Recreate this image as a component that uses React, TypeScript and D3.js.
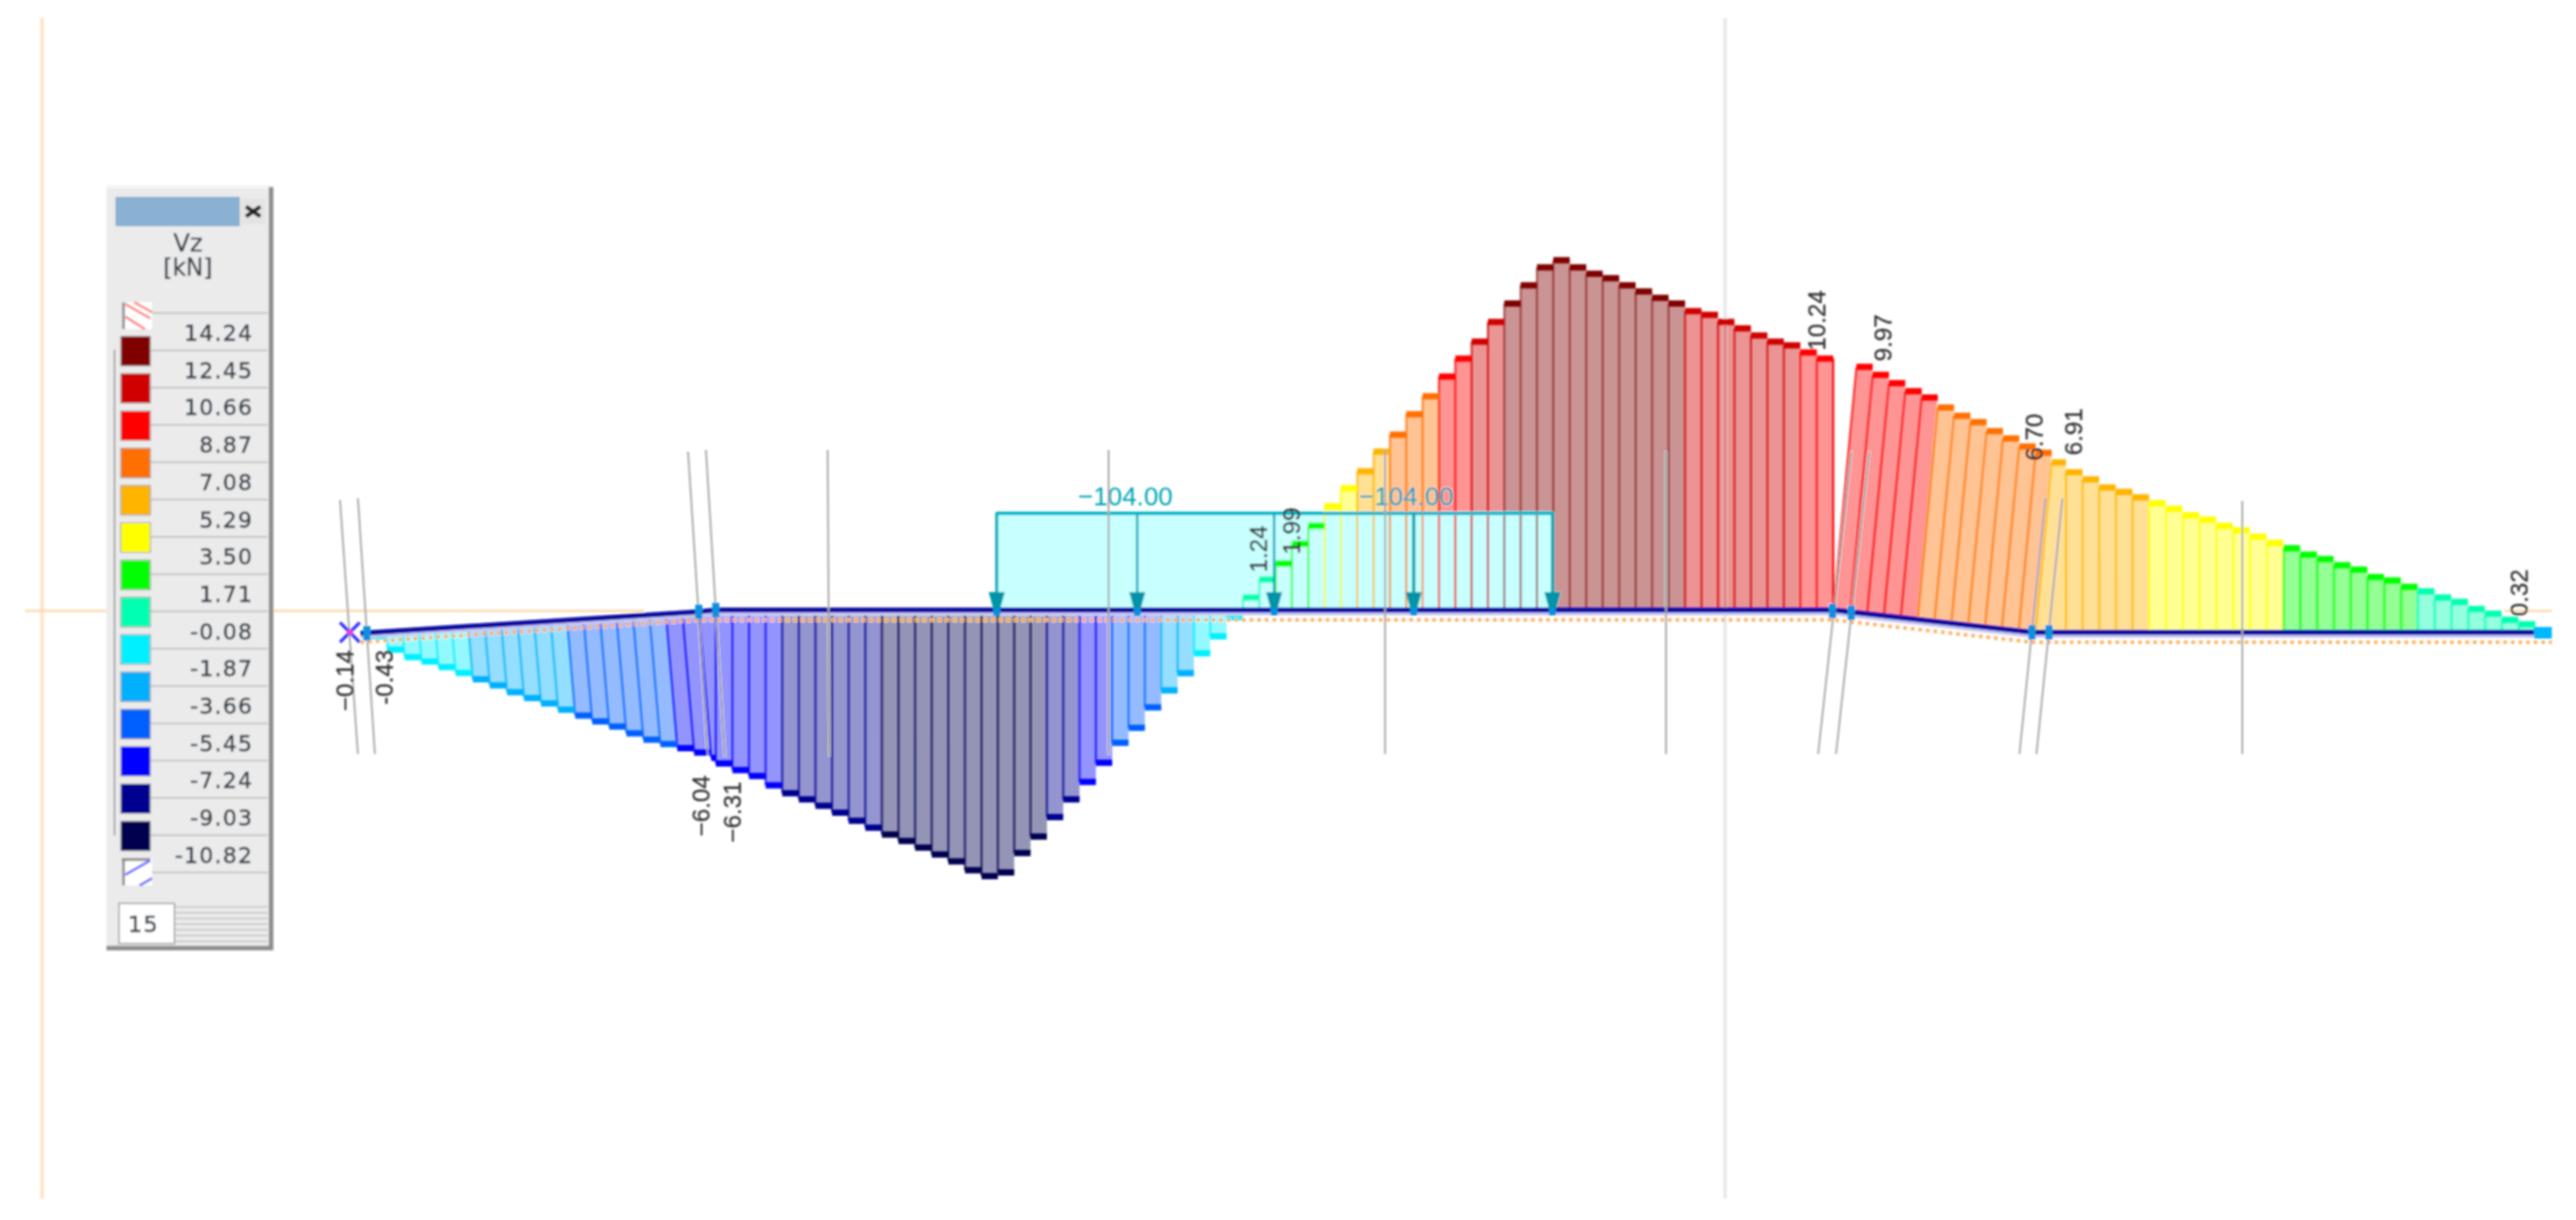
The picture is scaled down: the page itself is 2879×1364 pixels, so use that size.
import React from "react";
import * as d3 from "d3";

// ---------- data (kN) ----------
const legendTitle = ["Vz", "[kN]"];
const legendValues = [14.24, 12.45, 10.66, 8.87, 7.08, 5.29, 3.5, 1.71, -0.08, -1.87, -3.66, -5.45, -7.24, -9.03, -10.82];
const legendColors = ["#800000", "#d00000", "#ff0000", "#ff7000", "#ffb400", "#ffff00", "#00ff00", "#00ffb0", "#00f0ff", "#00b0ff", "#0060ff", "#0000ff", "#000090", "#000050"];

const spanLeftValues = [-0.15, -0.73, -1.08, -1.3, -1.57, -1.85, -2.15, -2.44, -2.76, -3.04, -3.3, -3.6, -3.88, -4.16, -4.41, -4.73, -5.03, -5.25, -5.46, -5.68, -5.94];
const spanMidNegative = [-6.24, -6.51, -6.75, -7.13, -7.45, -7.7, -7.96, -8.24, -8.57, -8.85, -9.13, -9.39, -9.66, -9.94, -10.22, -10.58, -10.82, -10.67, -9.88, -9.21, -8.42, -7.7, -6.99, -6.21, -5.4, -4.79, -3.96, -3.27, -2.57, -1.76, -1.07, -0.3];
const spanMidPositive = [0.51, 1.24, 1.89, 2.69, 3.42, 4.22, 4.95, 5.64, 6.44, 7.13, 7.96, 8.69, 9.49, 10.22, 10.91, 11.71, 12.46, 13.2, 13.93, 14.22, 13.93, 13.67, 13.49, 13.2, 12.95, 12.69, 12.46, 12.15, 12.0, 11.71, 11.45, 11.16, 10.91, 10.76, 10.47, 10.22];
const spanRampValues = [9.89, 9.64, 9.38, 9.13, 8.95, 8.62, 8.36, 8.18, 7.89, 7.67, 7.42, 7.24, 6.91];
const spanRightValues = [6.51, 6.22, 5.89, 5.71, 5.49, 5.25, 5.02, 4.76, 4.58, 4.33, 4.15, 3.89, 3.64, 3.42, 3.16, 2.98, 2.73, 2.55, 2.25, 2.11, 1.85, 1.67, 1.42, 1.24, 0.95, 0.76, 0.51, 0.33];
const barValues = [...spanLeftValues, ...spanMidNegative, ...spanMidPositive, ...spanRampValues, ...spanRightValues];

const valueLabels = [
  { text: "\u22120.14", x: 385, y: 795 }, { text: "-0.43", x: 429, y: 788 },
  { text: "\u22126.04", x: 783, y: 935 }, { text: "\u22126.31", x: 818, y: 942 },
  { text: "1.24", x: 1406, y: 640 }, { text: "1.99", x: 1443, y: 620 },
  { text: "10.24", x: 2030, y: 392 }, { text: "9.97", x: 2104, y: 404 },
  { text: "6.70", x: 2273, y: 515 }, { text: "6.91", x: 2317, y: 509 },
  { text: "0.32", x: 2815, y: 689 },
];
const loadArrowX = [1114, 1271, 1424, 1580, 1735];
const loadLabels = [{ text: "\u2212104.00", x: 1205 }, { text: "\u2212104.00", x: 1519 }];
const sectionLines = [
  [380, 559, 400, 843], [400, 557, 419, 843], [769, 505, 791, 845], [789, 503, 810, 845],
  [925, 503, 927, 845], [1239, 503, 1239, 843], [1548, 503, 1548, 843], [1862, 505, 1862, 843],
  [2069, 505, 2032, 843], [2089, 505, 2052, 843], [2286, 557, 2257, 843], [2305, 557, 2276, 843], [2506, 560, 2506, 843],
];
const nodeMarkers = [[410, 708], [781, 684], [800, 682], [2048, 683], [2069, 685], [2271, 707], [2290, 707]];

// ---------- scales ----------
const xBase = d3.scaleLinear()
  .domain([0, 20, 21, 37, 72, 88, 89, 101, 102, 107, 129, 130])
  .range([413, 781, 800, 1097, 1736, 2030.5, 2049, 2275, 2309, 2402, 2815, 2834]);
const beamXs = [403, 781, 800, 2048, 2271, 2852];
const beamYs = [708, 684, 682, 682, 707, 707];
const beamY = d3.scaleLinear().domain(beamXs).range(beamYs);
const dotYs = [718, 693, 693, 693, 718, 718];
const pxPerKn = 27.5;
const h = d3.scaleLinear().domain([0, 1]).range([0, pxPerKn]);
const colorOf = d3.scaleThreshold<number, string>()
  .domain([...legendValues.slice(1, -1)].reverse())
  .range([...legendColors].reverse());
const skewOf = (i: number) => (i <= 20 ? 0.085 : i >= 89 && i <= 101 ? 0.095 : 0);
const BAR_W = 18.4;

const bars = barValues.map((v, i) => {
  const bx = xBase(i);
  const by = beamY(bx);
  const len = h(Math.abs(v));
  const tx = bx + skewOf(i) * len;
  const sign = v < 0 ? 1 : -1;
  return { v, i, bx, by, len, tx, tipY: by + sign * len, sign, color: colorOf(v) };
});
const tipRight = (i: number) => {
  const b = bars[i], n = bars[i + 1];
  const w = b.tx + BAR_W;
  return n && n.tx > b.tx ? Math.min(w, n.tx) : w;
};
const line = d3.line();

function Legend() {
  const rowLine = (i: number) => 350 + 41.7 * i;
  const dark = "#39424c";
  return (
    <g fontFamily="'DejaVu Sans', sans-serif" fill={dark} stroke={dark} strokeWidth={0}>
      <rect x={119} y={209} width={186} height={851} fill="#ebebeb" />
      <path d="M119 209H305" stroke="#f4f4f4" strokeWidth={4} fill="none" />
      <path d="M303 209V1060H119" stroke="#8c8c8c" strokeWidth={5} fill="none" />
      <rect x={129} y={220} width={139} height={33} fill="#8ab0d2" />
      <rect x={269} y={222} width={28} height={29} fill="#e4e4e4" />
      <path d="M275 231L291 242M291 231L275 242" stroke="#222" strokeWidth={4.5} />
      <text x={210} y={281} fontSize={27} textAnchor="middle" strokeWidth={0.4}>{legendTitle[0]}</text>
      <text x={210} y={308} fontSize={26} textAnchor="middle" strokeWidth={0.4}>{legendTitle[1]}</text>
      <path d="M128 391V934" stroke="#a0a0a0" strokeWidth={2} fill="none" />
      {legendValues.map((v, i) => (
        <g key={v}>
          <line x1={167} x2={299} y1={rowLine(i)} y2={rowLine(i)} stroke="#c4c4c4" strokeWidth={2} />
          <text x={283} y={372 + 41.7 * i + 9} fontSize={24.5} letterSpacing={1.4} textAnchor="end" strokeWidth={0.6}>{v.toFixed(2)}</text>
        </g>
      ))}
      <line x1={167} x2={299} y1={rowLine(15)} y2={rowLine(15)} stroke="#c4c4c4" strokeWidth={2} />
      {legendColors.map((c, i) => (
        <rect key={c} x={135} y={376 + 41.7 * i} width={33} height={33} fill={c} stroke="#9a9a9a" strokeWidth={1} />
      ))}
      <rect x={136} y={338} width={34} height={30} fill="#fff" />
      <path d="M138 338V368" stroke="#8c8c8c" strokeWidth={3} />
      <path d="M140 340L168 356M150 338L170 349M140 354L162 368" stroke="#ff8c8c" strokeWidth={3} fill="none" />
      <rect x={136} y={960} width={34} height={30} fill="#fff" />
      <path d="M138 960V990M136 961H168" stroke="#8c8c8c" strokeWidth={3} fill="none" />
      <path d="M140 978L168 962M156 990L170 982" stroke="#7070ff" strokeWidth={3} fill="none" />
      <rect x={133} y={1010} width={62} height={45} fill="#fff" stroke="#b0b0b0" strokeWidth={2} />
      <text x={143} y={1042} fontSize={25} letterSpacing={1.4} strokeWidth={0.6}>15</text>
      {d3.range(0, 7).map((k) => (
        <line key={k} x1={196} x2={299} y1={1014 + k * 6.4} y2={1014 + k * 6.4} stroke="#c0c0c0" strokeWidth={1.5} />
      ))}
    </g>
  );
}

export default function App() {
  return (
    <svg width={2879} height={1364} viewBox="0 0 2879 1364" style={{ position: "fixed", left: 0, top: 0, background: "#fff" }}>
      <defs>
        <filter id="soft" x="0" y="0" width="2879" height="1364" filterUnits="userSpaceOnUse">
          <feGaussianBlur stdDeviation={0.9} />
        </filter>
      </defs>
      <g filter="url(#soft)">
        {/* guides */}
        <line x1={47} x2={47} y1={20} y2={1340} stroke="#ffe3c4" strokeWidth={4} />
        <line x1={1928} x2={1928} y1={20} y2={1340} stroke="#e8e8e8" strokeWidth={4} />
        <line x1={28} x2={720} y1={683} y2={683} stroke="#ffd8ac" strokeWidth={2.5} />
        <line x1={2799} x2={2852} y1={683} y2={683} stroke="#ffd8ac" strokeWidth={2.5} />

        {/* bar fills */}
        {bars.map((b, i) => {
          const nextBase = i + 1 < bars.length ? bars[i + 1].bx : b.bx + BAR_W;
          const nextBeam = beamY(nextBase);
          return (
            <path key={i} fill={b.color} fillOpacity={0.42}
              d={line([[b.bx, b.by], [nextBase, nextBeam], [tipRight(i), b.tipY], [b.tx, b.tipY]]) + "Z"} />
          );
        })}

        {/* distributed load */}
        <rect x={loadArrowX[0]} y={574} width={loadArrowX[4] - loadArrowX[0]} height={108} fill="#c8ffff" />

        {/* bar edges and caps */}
        {bars.map((b, i) => (
          <line key={i} x1={b.bx} y1={b.by} x2={b.tx} y2={b.tipY} stroke={b.color} strokeWidth={2.2} strokeOpacity={b.i >= 69 && b.i <= 79 ? 0.6 : 0.8} />
        ))}
        {bars.map((b, i) => (
          <line key={i} x1={b.tx} y1={b.tipY} x2={tipRight(i)} y2={b.tipY} stroke={b.color} strokeWidth={7} />
        ))}
        <line x1={bars[88].bx + BAR_W} y1={bars[88].by} x2={bars[88].tx + BAR_W} y2={bars[88].tipY} stroke={bars[88].color} strokeWidth={2.2} />

        {/* dotted baseline and beam */}
        <path d={line(beamXs.map((x, i) => [x, dotYs[i]]) as [number, number][])!} fill="none" stroke="#ffb060" strokeWidth={4} strokeDasharray="4 4.5" />
        <path d={line(beamXs.map((x, i) => [x, beamYs[i] + 3.5]) as [number, number][])!} fill="none" stroke="#c8c8f4" strokeWidth={5} />
        <path d={line(beamXs.map((x, i) => [x, beamYs[i]]) as [number, number][])!} fill="none" stroke="#0a0aa0" strokeWidth={5.5} />

        {/* load frame and arrows */}
        <path d={`M${loadArrowX[0]} 682V574H${loadArrowX[4]}V682`} fill="none" stroke="#00b4c4" strokeWidth={3} />
        <line x1={loadArrowX[0]} x2={loadArrowX[4]} y1={574} y2={574} stroke="#00b8c8" strokeWidth={4} />
        {loadArrowX.map((x, k) => (
          <g key={x}>
            <line x1={x} x2={x} y1={574} y2={664} stroke="#00a8b8" strokeWidth={k === 3 ? 4 : 2.6} />
            <path d={`M${x - 9} 662H${x + 9}L${x + 4} 680H${x - 4}Z`} fill="#0094a8" />
            <rect x={x - 4} y={680} width={8} height={8} fill="#0090e0" />
          </g>
        ))}
        {loadLabels.map((l, i) => (
          <text key={i} x={l.x} y={565} fontSize={29} fontFamily="'Liberation Sans', sans-serif" fill="#00a4b4">{l.text}</text>
        ))}

        {/* section lines */}
        {sectionLines.map((s, i) => (
          <line key={i} x1={s[0]} y1={s[1]} x2={s[2]} y2={s[3]} stroke="#a6a6a6" strokeWidth={2} />
        ))}

        {/* node markers */}
        {nodeMarkers.map((m, i) => (
          <rect key={i} x={m[0] - 4} y={m[1] - 8} width={8} height={16} fill="#1090e0" />
        ))}
        <rect x={2832} y={701} width={20} height={13} fill="#00b8ff" />
        <path d="M380 696L402 718M402 696L380 718" stroke="#3030ff" strokeWidth={3.5} />
        <circle cx={391} cy={707} r={3.5} fill="#e040e0" />

        {/* value labels */}
        {valueLabels.map((l, i) => (
          <text key={i} transform={`translate(${l.x + 10},${l.y}) rotate(-90)`} fontSize={27} fontFamily="'Liberation Sans', sans-serif" fill="#333" stroke="#333" strokeWidth={0.3}>{l.text}</text>
        ))}

        <Legend />
      </g>
    </svg>
  );
}
